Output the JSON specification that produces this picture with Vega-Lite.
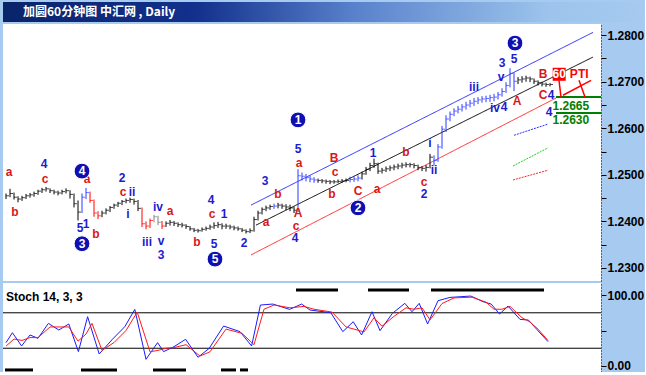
{
"$schema":"https://vega.github.io/schema/vega-lite/v6.json",
"background":"#a6caf0",
"padding":{"left":2,"top":2,"right":0,"bottom":0},
"spacing":2,
"config":{"view":{"stroke":null,"fill":"white"},"text":{"font":"Liberation Sans"},
"axisY":{"orient":"right","title":null,"grid":false,"tickColor":"black","tickSize":5,"domainColor":"black","domainDash":[1,2],"labelColor":"black","labelFont":"Liberation Sans","labelFontSize":12,"labelFontWeight":"bold","labelPadding":1,"labelOverlap":false}},
"datasets":{
"bars":[
{"t":0,"h":1.2460,"l":1.2448,"c":1.2455,"leg":"base"},{"t":1,"h":1.2470,"l":1.2452,"c":1.2460,"leg":"base"},{"t":2,"h":1.2462,"l":1.2447,"c":1.2452,"leg":"base"},{"t":3,"h":1.2454,"l":1.2441,"c":1.2448,"leg":"base"},{"t":4,"h":1.2455,"l":1.2444,"c":1.2451,"leg":"base"},{"t":5,"h":1.2459,"l":1.2448,"c":1.2455,"leg":"base"},{"t":6,"h":1.2461,"l":1.2451,"c":1.2457,"leg":"base"},{"t":7,"h":1.2464,"l":1.2453,"c":1.2460,"leg":"base"},{"t":8,"h":1.2468,"l":1.2457,"c":1.2465,"leg":"base"},{"t":9,"h":1.2472,"l":1.2461,"c":1.2468,"leg":"base"},
{"t":10,"h":1.2474,"l":1.2464,"c":1.2470,"leg":"base"},{"t":11,"h":1.2471,"l":1.2461,"c":1.2466,"leg":"base"},{"t":12,"h":1.2468,"l":1.2458,"c":1.2463,"leg":"base"},{"t":13,"h":1.2466,"l":1.2456,"c":1.2461,"leg":"base"},{"t":14,"h":1.2468,"l":1.2458,"c":1.2464,"leg":"base"},{"t":15,"h":1.2471,"l":1.2460,"c":1.2466,"leg":"base"},{"t":16,"h":1.2467,"l":1.2449,"c":1.2458,"leg":"base"},{"t":17,"h":1.2460,"l":1.2430,"c":1.2438,"leg":"base"},{"t":18,"h":1.2445,"l":1.2402,"c":1.2420,"leg":"base"},{"t":19,"h":1.2460,"l":1.2418,"c":1.2452,"leg":"up"},
{"t":20,"h":1.2472,"l":1.2448,"c":1.2462,"leg":"up"},{"t":21,"h":1.2464,"l":1.2440,"c":1.2445,"leg":"down"},{"t":22,"h":1.2447,"l":1.2410,"c":1.2418,"leg":"down"},{"t":23,"h":1.2422,"l":1.2405,"c":1.2412,"leg":"down"},{"t":24,"h":1.2423,"l":1.2409,"c":1.2418,"leg":"base"},{"t":25,"h":1.2428,"l":1.2415,"c":1.2424,"leg":"base"},{"t":26,"h":1.2433,"l":1.2420,"c":1.2430,"leg":"base"},{"t":27,"h":1.2438,"l":1.2427,"c":1.2435,"leg":"base"},{"t":28,"h":1.2442,"l":1.2431,"c":1.2439,"leg":"base"},{"t":29,"h":1.2446,"l":1.2435,"c":1.2443,"leg":"base"},
{"t":30,"h":1.2449,"l":1.2439,"c":1.2445,"leg":"base"},{"t":31,"h":1.2451,"l":1.2440,"c":1.2447,"leg":"base"},{"t":32,"h":1.2449,"l":1.2436,"c":1.2443,"leg":"base"},{"t":33,"h":1.2446,"l":1.2422,"c":1.2428,"leg":"base"},{"t":34,"h":1.2430,"l":1.2388,"c":1.2395,"leg":"down"},{"t":35,"h":1.2400,"l":1.2383,"c":1.2390,"leg":"down"},{"t":36,"h":1.2406,"l":1.2386,"c":1.2402,"leg":"down"},{"t":37,"h":1.2414,"l":1.2398,"c":1.2410,"leg":"mixed"},{"t":38,"h":1.2412,"l":1.2392,"c":1.2398,"leg":"mixed"},{"t":39,"h":1.2401,"l":1.2384,"c":1.2390,"leg":"down"},
{"t":40,"h":1.2400,"l":1.2388,"c":1.2396,"leg":"base"},{"t":41,"h":1.2403,"l":1.2391,"c":1.2398,"leg":"base"},{"t":42,"h":1.2401,"l":1.2390,"c":1.2396,"leg":"base"},{"t":43,"h":1.2398,"l":1.2388,"c":1.2393,"leg":"base"},{"t":44,"h":1.2397,"l":1.2387,"c":1.2392,"leg":"base"},{"t":45,"h":1.2394,"l":1.2384,"c":1.2389,"leg":"base"},{"t":46,"h":1.2390,"l":1.2380,"c":1.2384,"leg":"base"},{"t":47,"h":1.2386,"l":1.2377,"c":1.2381,"leg":"base"},{"t":48,"h":1.2384,"l":1.2376,"c":1.2380,"leg":"base"},{"t":49,"h":1.2387,"l":1.2378,"c":1.2383,"leg":"base"},
{"t":50,"h":1.2389,"l":1.2380,"c":1.2385,"leg":"base"},{"t":51,"h":1.2393,"l":1.2382,"c":1.2388,"leg":"base"},{"t":52,"h":1.2398,"l":1.2384,"c":1.2391,"leg":"base"},{"t":53,"h":1.2399,"l":1.2386,"c":1.2393,"leg":"base"},{"t":54,"h":1.2396,"l":1.2383,"c":1.2390,"leg":"base"},{"t":55,"h":1.2395,"l":1.2384,"c":1.2390,"leg":"base"},{"t":56,"h":1.2393,"l":1.2383,"c":1.2388,"leg":"base"},{"t":57,"h":1.2391,"l":1.2381,"c":1.2386,"leg":"base"},{"t":58,"h":1.2389,"l":1.2380,"c":1.2384,"leg":"base"},{"t":59,"h":1.2386,"l":1.2377,"c":1.2381,"leg":"base"},
{"t":60,"h":1.2383,"l":1.2374,"c":1.2378,"leg":"base"},{"t":61,"h":1.2385,"l":1.2375,"c":1.2380,"leg":"base"},{"t":62,"h":1.2410,"l":1.2378,"c":1.2404,"leg":"base"},{"t":63,"h":1.2423,"l":1.2402,"c":1.2418,"leg":"base"},{"t":64,"h":1.2430,"l":1.2415,"c":1.2426,"leg":"base"},{"t":65,"h":1.2434,"l":1.2422,"c":1.2429,"leg":"base"},{"t":66,"h":1.2436,"l":1.2425,"c":1.2432,"leg":"base"},{"t":67,"h":1.2438,"l":1.2427,"c":1.2433,"leg":"up"},{"t":68,"h":1.2440,"l":1.2428,"c":1.2435,"leg":"base"},{"t":69,"h":1.2438,"l":1.2427,"c":1.2433,"leg":"base"},
{"t":70,"h":1.2437,"l":1.2424,"c":1.2431,"leg":"base"},{"t":71,"h":1.2436,"l":1.2422,"c":1.2429,"leg":"base"},{"t":72,"h":1.2432,"l":1.2418,"c":1.2424,"leg":"base"},{"t":73,"h":1.2512,"l":1.2420,"c":1.2498,"leg":"up"},{"t":74,"h":1.2505,"l":1.2488,"c":1.2497,"leg":"up"},{"t":75,"h":1.2502,"l":1.2486,"c":1.2494,"leg":"up"},{"t":76,"h":1.2498,"l":1.2484,"c":1.2491,"leg":"up"},{"t":77,"h":1.2495,"l":1.2483,"c":1.2489,"leg":"up"},{"t":78,"h":1.2492,"l":1.2483,"c":1.2488,"leg":"base"},{"t":79,"h":1.2491,"l":1.2482,"c":1.2487,"leg":"base"},
{"t":80,"h":1.2490,"l":1.2481,"c":1.2486,"leg":"base"},{"t":81,"h":1.2489,"l":1.2480,"c":1.2485,"leg":"base"},{"t":82,"h":1.2489,"l":1.2481,"c":1.2485,"leg":"base"},{"t":83,"h":1.2490,"l":1.2482,"c":1.2486,"leg":"base"},{"t":84,"h":1.2491,"l":1.2483,"c":1.2487,"leg":"base"},{"t":85,"h":1.2492,"l":1.2484,"c":1.2488,"leg":"base"},{"t":86,"h":1.2496,"l":1.2484,"c":1.2490,"leg":"up"},{"t":87,"h":1.2498,"l":1.2485,"c":1.2491,"leg":"up"},{"t":88,"h":1.2499,"l":1.2486,"c":1.2493,"leg":"up"},{"t":89,"h":1.2507,"l":1.2490,"c":1.2502,"leg":"base"},
{"t":90,"h":1.2517,"l":1.2500,"c":1.2512,"leg":"base"},{"t":91,"h":1.2526,"l":1.2508,"c":1.2520,"leg":"base"},{"t":92,"h":1.2535,"l":1.2515,"c":1.2524,"leg":"base"},{"t":93,"h":1.2526,"l":1.2502,"c":1.2508,"leg":"base"},{"t":94,"h":1.2515,"l":1.2503,"c":1.2510,"leg":"base"},{"t":95,"h":1.2518,"l":1.2506,"c":1.2513,"leg":"base"},{"t":96,"h":1.2520,"l":1.2508,"c":1.2515,"leg":"base"},{"t":97,"h":1.2522,"l":1.2510,"c":1.2517,"leg":"base"},{"t":98,"h":1.2524,"l":1.2512,"c":1.2519,"leg":"base"},{"t":99,"h":1.2526,"l":1.2514,"c":1.2521,"leg":"base"},
{"t":100,"h":1.2527,"l":1.2516,"c":1.2522,"leg":"base"},{"t":101,"h":1.2526,"l":1.2516,"c":1.2522,"leg":"base"},{"t":102,"h":1.2525,"l":1.2514,"c":1.2520,"leg":"base"},{"t":103,"h":1.2522,"l":1.2510,"c":1.2516,"leg":"base"},{"t":104,"h":1.2519,"l":1.2508,"c":1.2514,"leg":"base"},{"t":105,"h":1.2521,"l":1.2507,"c":1.2516,"leg":"base"},{"t":106,"h":1.2545,"l":1.2514,"c":1.2538,"leg":"base"},{"t":107,"h":1.2542,"l":1.2520,"c":1.2531,"leg":"up"},{"t":108,"h":1.2566,"l":1.2528,"c":1.2560,"leg":"up"},{"t":109,"h":1.2605,"l":1.2556,"c":1.2598,"leg":"up"},
{"t":110,"h":1.2628,"l":1.2592,"c":1.2620,"leg":"up"},{"t":111,"h":1.2636,"l":1.2615,"c":1.2630,"leg":"up"},{"t":112,"h":1.2643,"l":1.2626,"c":1.2637,"leg":"up"},{"t":113,"h":1.2648,"l":1.2632,"c":1.2641,"leg":"up"},{"t":114,"h":1.2652,"l":1.2636,"c":1.2646,"leg":"up"},{"t":115,"h":1.2657,"l":1.2640,"c":1.2650,"leg":"up"},{"t":116,"h":1.2661,"l":1.2645,"c":1.2654,"leg":"up"},{"t":117,"h":1.2665,"l":1.2648,"c":1.2658,"leg":"up"},{"t":118,"h":1.2667,"l":1.2652,"c":1.2661,"leg":"up"},{"t":119,"h":1.2669,"l":1.2655,"c":1.2663,"leg":"up"},
{"t":120,"h":1.2670,"l":1.2656,"c":1.2664,"leg":"up"},{"t":121,"h":1.2672,"l":1.2657,"c":1.2666,"leg":"up"},{"t":122,"h":1.2674,"l":1.2658,"c":1.2667,"leg":"up"},{"t":123,"h":1.2678,"l":1.2662,"c":1.2672,"leg":"up"},{"t":124,"h":1.2686,"l":1.2668,"c":1.2679,"leg":"up"},{"t":125,"h":1.2699,"l":1.2676,"c":1.2692,"leg":"up"},{"t":126,"h":1.2729,"l":1.2688,"c":1.2718,"leg":"up"},{"t":127,"h":1.2720,"l":1.2680,"c":1.2701,"leg":"up"},{"t":128,"h":1.2710,"l":1.2695,"c":1.2704,"leg":"base"},{"t":129,"h":1.2712,"l":1.2698,"c":1.2706,"leg":"base"},
{"t":130,"h":1.2713,"l":1.2700,"c":1.2708,"leg":"base"},{"t":131,"h":1.2711,"l":1.2699,"c":1.2706,"leg":"base"},{"t":132,"h":1.2707,"l":1.2695,"c":1.2701,"leg":"base"},{"t":133,"h":1.2703,"l":1.2692,"c":1.2698,"leg":"base"},{"t":134,"h":1.2700,"l":1.2690,"c":1.2695,"leg":"base"},{"t":135,"h":1.2698,"l":1.2689,"c":1.2694,"leg":"base"},{"t":136,"h":1.2697,"l":1.2690,"c":1.2694,"leg":"base"}
],
"lines":[
{"t":61.25,"p":1.2435,"ln":"upper"},{"t":146.75,"p":1.2806,"ln":"upper"},
{"t":62.5,"p":1.2392,"ln":"mid"},{"t":146.75,"p":1.2753,"ln":"mid"},
{"t":61.25,"p":1.2328,"ln":"lower"},{"t":137.5,"p":1.2665,"ln":"lower"},
{"t":127,"p":1.2585,"ln":"tb"},{"t":135.5,"p":1.2609,"ln":"tb"},
{"t":126.75,"p":1.2519,"ln":"tg"},{"t":135.5,"p":1.2558,"ln":"tg"},
{"t":126.75,"p":1.2489,"ln":"tr"},{"t":135.5,"p":1.2510,"ln":"tr"}
],
"levels":[{"t1":137.5,"t2":148.75,"p":1.2667},{"t1":137.5,"t2":148.75,"p":1.2633}],
"arrows":[
{"id":"a1","t":138.25,"p":1.2703},{"id":"a1","t":138.75,"p":1.2667},
{"id":"a2","t":143.25,"p":1.2703},{"id":"a2","t":144.75,"p":1.2667},
{"id":"a3","t":139.25,"p":1.2671},{"id":"a3","t":146.25,"p":1.2703}
],
"labels":[
{"t":0.75,"p":1.2506,"s":"a","kind":"corr"},{"t":2.25,"p":1.2420,"s":"b","kind":"corr"},{"t":9.5,"p":1.2523,"s":"4","kind":"mot"},{"t":9.75,"p":1.2491,"s":"c","kind":"corr"},{"t":20.25,"p":1.2491,"s":"a","kind":"corr"},{"t":18.5,"p":1.2386,"s":"5","kind":"mot"},{"t":20,"p":1.2394,"s":"1","kind":"mot"},{"t":22.5,"p":1.2373,"s":"b","kind":"corr"},{"t":29,"p":1.2493,"s":"2","kind":"mot"},{"t":29.25,"p":1.2463,"s":"c","kind":"corr"},{"t":31.5,"p":1.2463,"s":"ii","kind":"mot"},{"t":30.5,"p":1.2416,"s":"i","kind":"mot"},{"t":35.25,"p":1.2356,"s":"iii","kind":"mot"},{"t":38,"p":1.2431,"s":"iv","kind":"mot"},{"t":41,"p":1.2422,"s":"a","kind":"corr"},{"t":38.75,"p":1.2358,"s":"v","kind":"mot"},{"t":38.75,"p":1.2328,"s":"3","kind":"mot"},{"t":51.25,"p":1.2446,"s":"4","kind":"mot"},{"t":51.5,"p":1.2416,"s":"c","kind":"corr"},{"t":54.5,"p":1.2416,"s":"1","kind":"mot"},{"t":47.75,"p":1.2356,"s":"b","kind":"corr"},{"t":52,"p":1.2352,"s":"5","kind":"mot"},{"t":59.5,"p":1.2354,"s":"2","kind":"mot"},{"t":64.75,"p":1.2487,"s":"3","kind":"mot"},{"t":68,"p":1.2459,"s":"b","kind":"corr"},{"t":65,"p":1.2399,"s":"a","kind":"corr"},{"t":73,"p":1.2555,"s":"5","kind":"mot"},{"t":73.25,"p":1.2525,"s":"a","kind":"corr"},{"t":73,"p":1.2418,"s":"A","kind":"corr"},{"t":72.5,"p":1.2390,"s":"c","kind":"corr"},{"t":72.25,"p":1.2364,"s":"4","kind":"mot"},{"t":82,"p":1.2536,"s":"B","kind":"corr"},{"t":82.25,"p":1.2506,"s":"c","kind":"corr"},{"t":81.5,"p":1.2459,"s":"b","kind":"corr"},{"t":88,"p":1.2465,"s":"C","kind":"corr"},{"t":92.75,"p":1.2470,"s":"a","kind":"corr"},{"t":91.75,"p":1.2547,"s":"1","kind":"mot"},{"t":100,"p":1.2549,"s":"b","kind":"corr"},{"t":104.5,"p":1.2485,"s":"c","kind":"corr"},{"t":104.5,"p":1.2459,"s":"2","kind":"mot"},{"t":106,"p":1.2568,"s":"i","kind":"mot"},{"t":107,"p":1.2510,"s":"ii","kind":"mot"},{"t":124,"p":1.2740,"s":"3","kind":"mot"},{"t":127,"p":1.2749,"s":"5","kind":"mot"},{"t":123.75,"p":1.2710,"s":"v","kind":"mot"},{"t":117,"p":1.2688,"s":"iii","kind":"mot"},{"t":122.25,"p":1.2643,"s":"iv","kind":"mot"},{"t":124.5,"p":1.2646,"s":"4","kind":"mot"},{"t":127.75,"p":1.2658,"s":"A","kind":"corr"},{"t":134.25,"p":1.2716,"s":"B","kind":"corr"},{"t":134.25,"p":1.2672,"s":"C","kind":"corr"},{"t":136.25,"p":1.2672,"s":"4","kind":"mot"},{"t":135.75,"p":1.2635,"s":"4","kind":"mot"}
],
"circles":[{"t":19,"p":1.2508,"n":"4"},{"t":19,"p":1.2352,"n":"3"},{"t":52.25,"p":1.2319,"n":"5"},{"t":73,"p":1.2618,"n":"1"},{"t":88,"p":1.2429,"n":"2"},{"t":127.25,"p":1.2783,"n":"3"}],
"tagbox":[{"t":138.3,"p":1.2716}],
"tags":[{"t":138.3,"p":1.2716,"s":"60","kind":"box"},{"t":143.3,"p":1.2716,"s":"PTI","kind":"tag"},{"t":141.2,"p":1.2647,"s":"1.2665","kind":"level"},{"t":141.2,"p":1.2617,"s":"1.2630","kind":"level"}],
"stoch":[
{"t":0,"v":32.9,"s":"K"},{"t":1.6,"v":46.9,"s":"K"},{"t":3.9,"v":28.2,"s":"K"},{"t":6,"v":43.7,"s":"K"},{"t":8,"v":39,"s":"K"},{"t":10.6,"v":60.1,"s":"K"},{"t":13.2,"v":50.7,"s":"K"},{"t":15.7,"v":59.2,"s":"K"},{"t":18.1,"v":20.2,"s":"K"},{"t":20.4,"v":69.5,"s":"K"},{"t":23.3,"v":16.9,"s":"K"},{"t":26.6,"v":37.6,"s":"K"},{"t":29.7,"v":55.4,"s":"K"},{"t":32.2,"v":79.8,"s":"K"},{"t":35,"v":9.4,"s":"K"},{"t":37.9,"v":32.9,"s":"K"},{"t":39.4,"v":20.2,"s":"K"},{"t":42,"v":27.2,"s":"K"},{"t":44.9,"v":37.6,"s":"K"},{"t":48,"v":12.2,"s":"K"},{"t":50.8,"v":24.9,"s":"K"},{"t":54.4,"v":56.3,"s":"K"},{"t":58.5,"v":48.4,"s":"K"},{"t":61.4,"v":28.2,"s":"K"},{"t":63.6,"v":85.9,"s":"K"},{"t":66.7,"v":87.3,"s":"K"},{"t":70.9,"v":79.8,"s":"K"},{"t":73.9,"v":87.3,"s":"K"},{"t":76,"v":78.9,"s":"K"},{"t":81.2,"v":75.1,"s":"K"},{"t":84.2,"v":48.4,"s":"K"},{"t":86.8,"v":62.4,"s":"K"},{"t":88.9,"v":43.7,"s":"K"},{"t":91.5,"v":76.5,"s":"K"},{"t":93.5,"v":49.8,"s":"K"},{"t":96.6,"v":74.2,"s":"K"},{"t":99.7,"v":88.3,"s":"K"},{"t":101.5,"v":76.5,"s":"K"},{"t":103.3,"v":88.3,"s":"K"},{"t":105.4,"v":59.2,"s":"K"},{"t":108,"v":92,"s":"K"},{"t":111,"v":96.7,"s":"K"},{"t":116.2,"v":98.6,"s":"K"},{"t":119.3,"v":90.6,"s":"K"},{"t":121.3,"v":87.3,"s":"K"},{"t":123.4,"v":73.2,"s":"K"},{"t":125.5,"v":84.5,"s":"K"},{"t":128.5,"v":65.7,"s":"K"},{"t":130.6,"v":64.8,"s":"K"},{"t":132.7,"v":51.6,"s":"K"},{"t":135.5,"v":34.3,"s":"K"},
{"t":0,"v":28,"s":"D"},{"t":2,"v":38,"s":"D"},{"t":4,"v":36,"s":"D"},{"t":6,"v":40,"s":"D"},{"t":8,"v":40,"s":"D"},{"t":11,"v":55,"s":"D"},{"t":13,"v":55,"s":"D"},{"t":15.7,"v":55,"s":"D"},{"t":18,"v":35,"s":"D"},{"t":20,"v":45,"s":"D"},{"t":21.5,"v":60,"s":"D"},{"t":24,"v":22,"s":"D"},{"t":27,"v":33,"s":"D"},{"t":30,"v":50,"s":"D"},{"t":32.8,"v":76,"s":"D"},{"t":36,"v":20,"s":"D"},{"t":38,"v":22,"s":"D"},{"t":40,"v":25,"s":"D"},{"t":42,"v":26,"s":"D"},{"t":45,"v":30,"s":"D"},{"t":48.5,"v":14,"s":"D"},{"t":51,"v":20,"s":"D"},{"t":55,"v":52,"s":"D"},{"t":59,"v":46,"s":"D"},{"t":62,"v":30,"s":"D"},{"t":64.5,"v":80,"s":"D"},{"t":67,"v":86,"s":"D"},{"t":71,"v":82,"s":"D"},{"t":74.5,"v":84,"s":"D"},{"t":77,"v":80,"s":"D"},{"t":81.5,"v":76,"s":"D"},{"t":85,"v":55,"s":"D"},{"t":87,"v":52,"s":"D"},{"t":89.5,"v":48,"s":"D"},{"t":92,"v":68,"s":"D"},{"t":94,"v":56,"s":"D"},{"t":97,"v":70,"s":"D"},{"t":100,"v":82,"s":"D"},{"t":102,"v":80,"s":"D"},{"t":104,"v":82,"s":"D"},{"t":106,"v":65,"s":"D"},{"t":109,"v":88,"s":"D"},{"t":112,"v":96,"s":"D"},{"t":116.5,"v":97,"s":"D"},{"t":120,"v":90,"s":"D"},{"t":122,"v":80,"s":"D"},{"t":124,"v":80,"s":"D"},{"t":126,"v":84,"s":"D"},{"t":129,"v":68,"s":"D"},{"t":131,"v":62,"s":"D"},{"t":133,"v":52,"s":"D"},{"t":135.5,"v":36,"s":"D"}
],
"zones":[{"t1":72.5,"t2":83,"v":107},{"t1":90.5,"t2":100.75,"v":107},{"t1":106.25,"t2":134.5,"v":107},{"t1":-0.25,"t2":6.75,"v":-5.6},{"t1":18.75,"t2":27.75,"v":-5.6},{"t1":36.75,"t2":45,"v":-5.6},{"t1":53.75,"t2":57.5,"v":-5.6},{"t1":58.5,"t2":60.5,"v":-5.6}],
"bands":[{"v":25},{"v":75}],
"stochlabel":[{"t":0,"v":97,"s":"Stoch 14, 3, 3"}]
},
"vconcat":[
{
"width":642,"height":20,
"data":{"values":[{"a":0,"b":1,"txt":"加圆60分钟图 中汇网 , Daily"}]},
"layer":[
{"mark":{"type":"rect","color":{"gradient":"linear","x1":0,"x2":1,"y1":0,"y2":0,"stops":[{"offset":0,"color":"#0a246a"},{"offset":0.3,"color":"#12308c"},{"offset":0.55,"color":"#5a82cc"},{"offset":0.85,"color":"#9cc4ec"},{"offset":1,"color":"#a6caf0"}]}},
 "encoding":{"x":{"field":"a","type":"quantitative","scale":{"domain":[0,1]},"axis":null},"x2":{"field":"b"}}},
{"mark":{"type":"text","align":"left","dx":20,"color":"white","font":"Noto Sans CJK SC","fontWeight":"bold","fontSize":12},
 "encoding":{"x":{"field":"a","type":"quantitative","scale":{"domain":[0,1]},"axis":null},"text":{"field":"txt"}}}
]
},
{
"width":598,"height":257,
"layer":[
{"data":{"name":"lines"},"mark":{"type":"line","strokeWidth":1},
 "encoding":{"x":{"field":"t","type":"quantitative","scale":{"domain":[-0.75,148.75],"nice":false,"zero":false},"axis":null},
 "y":{"field":"p","type":"quantitative","scale":{"domain":[1.2272,1.2824],"nice":false,"zero":false},"axis":{"orient":"right","title":null,"values":[1.23,1.235,1.24,1.245,1.25,1.255,1.26,1.265,1.27,1.275,1.28],"labelExpr":"round(datum.value*1000) % 10 == 0 ? format(datum.value, '.4f') : ''"}},
 "color":{"field":"ln","type":"nominal","scale":{"domain":["upper","mid","lower","tb","tg","tr"],"range":["#2828ff","#000000","#ff2828","#3030ff","#20d020","#ff2020"]},"legend":null},
 "strokeDash":{"field":"ln","type":"nominal","scale":{"domain":["upper","mid","lower","tb","tg","tr"],"range":[[1,0],[1,0],[1,0],[2,1],[2,1],[2,1]]},"legend":null}}},
{"data":{"name":"bars"},"mark":{"type":"rule","strokeWidth":1},
 "encoding":{"x":{"field":"t","type":"quantitative"},
 "y":{"field":"l","type":"quantitative","axis":{"orient":"right","title":null,"values":[1.23,1.235,1.24,1.245,1.25,1.255,1.26,1.265,1.27,1.275,1.28],"labelExpr":"round(datum.value*1000) % 10 == 0 ? format(datum.value, '.4f') : ''"}},"y2":{"field":"h"},
 "color":{"field":"leg","type":"nominal","scale":{"domain":["base","up","down","mixed"],"range":["#000000","#2a3cff","#ff0000","#808080"]},"legend":null}}},
{"data":{"name":"bars"},"mark":{"type":"tick","orient":"horizontal","size":3,"thickness":1,"xOffset":1.5},
 "encoding":{"x":{"field":"t","type":"quantitative"},
 "y":{"field":"c","type":"quantitative","axis":{"orient":"right","title":null,"values":[1.23,1.235,1.24,1.245,1.25,1.255,1.26,1.265,1.27,1.275,1.28],"labelExpr":"round(datum.value*1000) % 10 == 0 ? format(datum.value, '.4f') : ''"}},
 "color":{"field":"leg","type":"nominal","scale":{"domain":["base","up","down","mixed"],"range":["#000000","#2a3cff","#ff0000","#808080"]},"legend":null}}},
{"data":{"name":"levels"},"mark":{"type":"rule","strokeWidth":2,"color":"#008000"},
 "encoding":{"x":{"field":"t1","type":"quantitative"},"x2":{"field":"t2"},"y":{"field":"p","type":"quantitative","axis":{"orient":"right","title":null,"values":[1.23,1.235,1.24,1.245,1.25,1.255,1.26,1.265,1.27,1.275,1.28],"labelExpr":"round(datum.value*1000) % 10 == 0 ? format(datum.value, '.4f') : ''"}}}},
{"data":{"name":"arrows"},"mark":{"type":"line","strokeWidth":1.5,"color":"#ff0000"},
 "encoding":{"x":{"field":"t","type":"quantitative"},"y":{"field":"p","type":"quantitative","axis":{"orient":"right","title":null,"values":[1.23,1.235,1.24,1.245,1.25,1.255,1.26,1.265,1.27,1.275,1.28],"labelExpr":"round(datum.value*1000) % 10 == 0 ? format(datum.value, '.4f') : ''"}},"detail":{"field":"id"}}},
{"data":{"name":"labels"},"mark":{"type":"text","font":"Liberation Sans","fontWeight":"bold","fontSize":12,"baseline":"middle"},
 "encoding":{"x":{"field":"t","type":"quantitative"},"y":{"field":"p","type":"quantitative","axis":{"orient":"right","title":null,"values":[1.23,1.235,1.24,1.245,1.25,1.255,1.26,1.265,1.27,1.275,1.28],"labelExpr":"round(datum.value*1000) % 10 == 0 ? format(datum.value, '.4f') : ''"}},"text":{"field":"s"},
 "color":{"field":"kind","type":"nominal","scale":{"domain":["mot","corr"],"range":["#1c1cd0","#d81818"]},"legend":null}}},
{"data":{"name":"circles"},"mark":{"type":"point","shape":"circle","filled":true,"size":250,"fill":"#1010b0","stroke":"#ffffff","strokeWidth":1,"opacity":1},
 "encoding":{"x":{"field":"t","type":"quantitative"},"y":{"field":"p","type":"quantitative","axis":{"orient":"right","title":null,"values":[1.23,1.235,1.24,1.245,1.25,1.255,1.26,1.265,1.27,1.275,1.28],"labelExpr":"round(datum.value*1000) % 10 == 0 ? format(datum.value, '.4f') : ''"}}}},
{"data":{"name":"circles"},"mark":{"type":"text","font":"Liberation Sans","fontWeight":"bold","fontSize":12,"color":"white","baseline":"middle"},
 "encoding":{"x":{"field":"t","type":"quantitative"},"y":{"field":"p","type":"quantitative","axis":{"orient":"right","title":null,"values":[1.23,1.235,1.24,1.245,1.25,1.255,1.26,1.265,1.27,1.275,1.28],"labelExpr":"round(datum.value*1000) % 10 == 0 ? format(datum.value, '.4f') : ''"}},"text":{"field":"n"}}},
{"data":{"name":"tagbox"},"mark":{"type":"square","filled":true,"size":170,"color":"#ff0000","opacity":1},
 "encoding":{"x":{"field":"t","type":"quantitative"},"y":{"field":"p","type":"quantitative","axis":{"orient":"right","title":null,"values":[1.23,1.235,1.24,1.245,1.25,1.255,1.26,1.265,1.27,1.275,1.28],"labelExpr":"round(datum.value*1000) % 10 == 0 ? format(datum.value, '.4f') : ''"}}}},
{"data":{"name":"tags"},"mark":{"type":"text","font":"Liberation Sans","fontWeight":"bold","fontSize":12,"baseline":"middle"},
 "encoding":{"x":{"field":"t","type":"quantitative"},"y":{"field":"p","type":"quantitative","axis":{"orient":"right","title":null,"values":[1.23,1.235,1.24,1.245,1.25,1.255,1.26,1.265,1.27,1.275,1.28],"labelExpr":"round(datum.value*1000) % 10 == 0 ? format(datum.value, '.4f') : ''"}},"text":{"field":"s"},
 "color":{"field":"kind","type":"nominal","scale":{"domain":["box","tag","level"],"range":["#ffffff","#ff0000","#008000"]},"legend":null}}}
],
"resolve":{"scale":{"color":"independent","strokeDash":"independent"}}
},
{
"width":598,"height":89,
"layer":[
{"data":{"name":"bands"},"mark":{"type":"rule","color":"black","strokeWidth":1},
 "encoding":{"y":{"field":"v","type":"quantitative","scale":{"domain":[-8.5,117],"nice":false,"zero":false},"axis":{"orient":"right","title":null,"values":[0,50,100],"labelExpr":"datum.value == 50 ? '' : format(datum.value, '.2f')"}}}},
{"data":{"name":"zones"},"mark":{"type":"rule","color":"black","strokeWidth":3},
 "encoding":{"x":{"field":"t1","type":"quantitative","scale":{"domain":[-0.75,148.75],"nice":false,"zero":false},"axis":null},"x2":{"field":"t2"},"y":{"field":"v","type":"quantitative","axis":{"orient":"right","title":null,"values":[0,50,100],"labelExpr":"datum.value == 50 ? '' : format(datum.value, '.2f')"}}}},
{"data":{"name":"stoch"},"mark":{"type":"line","strokeWidth":1},
 "encoding":{"x":{"field":"t","type":"quantitative"},"y":{"field":"v","type":"quantitative","axis":{"orient":"right","title":null,"values":[0,50,100],"labelExpr":"datum.value == 50 ? '' : format(datum.value, '.2f')"}},
 "color":{"field":"s","type":"nominal","scale":{"domain":["K","D"],"range":["#1a1aff","#ff1a1a"]},"legend":null}}},
{"data":{"name":"stochlabel"},"mark":{"type":"text","align":"left","font":"Liberation Sans","fontWeight":"bold","fontSize":12,"color":"black","baseline":"middle"},
 "encoding":{"x":{"field":"t","type":"quantitative"},"y":{"field":"v","type":"quantitative","axis":{"orient":"right","title":null,"values":[0,50,100],"labelExpr":"datum.value == 50 ? '' : format(datum.value, '.2f')"}},"text":{"field":"s"}}}
]
}
]
}
